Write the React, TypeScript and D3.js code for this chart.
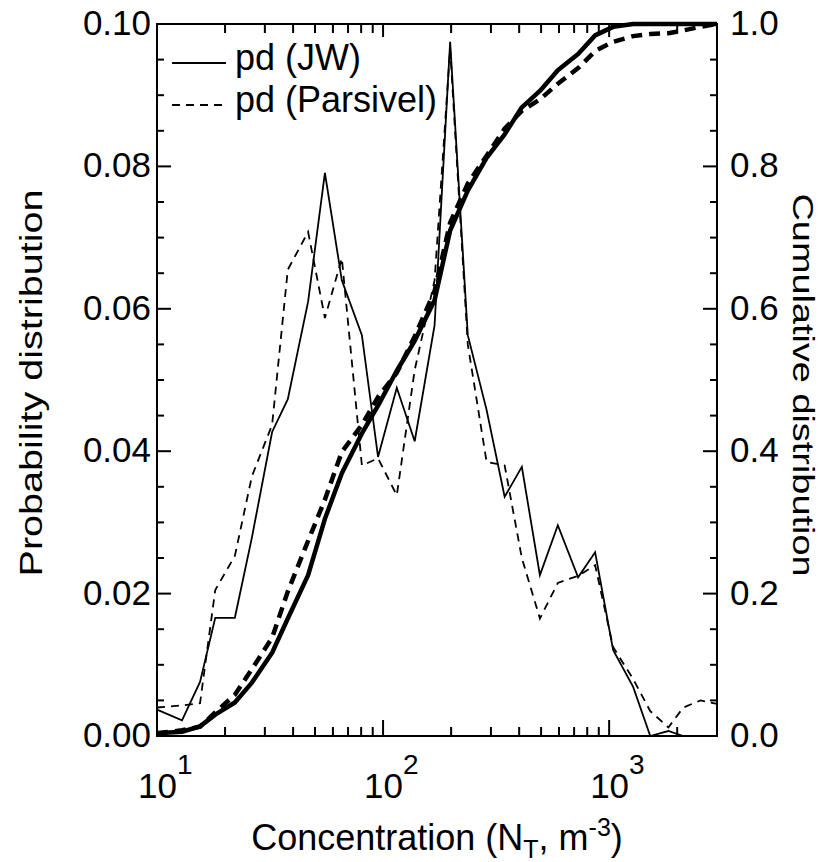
import React from "react";
import * as d3 from "d3";

// Concentration bins (N_T, m^-3)
const conc = [10, 12.9, 15.5, 18.1, 22.1, 26.3, 32.3, 37.9, 46.6, 55.3, 65.7, 80.6, 95, 115, 138, 169, 198, 237, 287, 345, 411, 494, 593, 729, 867, 1041, 1277, 1520, 1827, 2130, 2535, 3000];

// Probability distribution
const pdJW = [0.0037, 0.0022, 0.0076, 0.0166, 0.0166, 0.0279, 0.0427, 0.0473, 0.061, 0.0791, 0.064, 0.0563, 0.0392, 0.0489, 0.0414, 0.0577, 0.0975, 0.0563, 0.0458, 0.0336, 0.0378, 0.0226, 0.0296, 0.0223, 0.0258, 0.0121, 0.0069, 0.0, 0.0007, 0.0, 0.0, 0.0];
const pdParsivel = [0.004, 0.0043, 0.0046, 0.0205, 0.0253, 0.0365, 0.0437, 0.0655, 0.0708, 0.0587, 0.0671, 0.038, 0.039, 0.0338, 0.0514, 0.064, 0.0966, 0.055, 0.0385, 0.038, 0.025, 0.0165, 0.0215, 0.0225, 0.024, 0.0125, 0.008, 0.0035, 0.0012, 0.004, 0.005, 0.0045];

// Cumulative distribution
const cumJW = [0.004, 0.006, 0.0135, 0.03, 0.047, 0.075, 0.117, 0.165, 0.226, 0.305, 0.369, 0.425, 0.464, 0.513, 0.555, 0.612, 0.71, 0.766, 0.812, 0.845, 0.883, 0.906, 0.935, 0.958, 0.984, 0.996, 1.0, 1.0, 1.0, 1.0, 1.0, 1.0];
const cumParsivel = [0.004, 0.008, 0.013, 0.033, 0.058, 0.094, 0.138, 0.203, 0.274, 0.332, 0.399, 0.437, 0.476, 0.51, 0.561, 0.625, 0.721, 0.776, 0.815, 0.853, 0.878, 0.894, 0.916, 0.938, 0.962, 0.975, 0.983, 0.986, 0.987, 0.991, 0.996, 1.0];

const pdTicks = [0, 0.02, 0.04, 0.06, 0.08, 0.1];
const cumTicks = [0, 0.2, 0.4, 0.6, 0.8, 1.0];
const xDecades = [{ v: 10, e: "1" }, { v: 100, e: "2" }, { v: 1000, e: "3" }];
const legendItems = [
  { label: "pd (JW)", dash: "none" },
  { label: "pd (Parsivel)", dash: "8,6" },
];

const W = 821, H = 862;
const L = 157, R = 717, T = 24, B = 736;
const FONT = "'Liberation Sans', Arial, Helvetica, sans-serif";

export default function App() {
  const x = d3.scaleLog().domain([10, 3000]).range([L, R]);
  const yL = d3.scaleLinear().domain([0, 0.1]).range([B, T]);
  const yR = d3.scaleLinear().domain([0, 1]).range([B, T]);

  const mk = (vals: number[], y: d3.ScaleLinear<number, number>) =>
    d3.line<number>().x((_, i) => x(conc[i])).y((d) => y(d))(vals) || "";

  const xMinor = x.ticks().filter((t) => t >= 10 && t <= 3000);
  const isDecade = (t: number) => Math.abs(Math.log10(t) - Math.round(Math.log10(t))) < 1e-9;
  const yMinor = d3.range(0, 21).map((i) => i * 0.005);
  const cMinor = d3.range(0, 21).map((i) => i * 0.05);
  const isMajorPd = (v: number) => Math.abs(v / 0.02 - Math.round(v / 0.02)) < 1e-6;
  const isMajorC = (v: number) => Math.abs(v / 0.2 - Math.round(v / 0.2)) < 1e-6;

  return (
    <svg width={W} height={H} style={{ position: "absolute", left: 0, top: 0, background: "#fff" }} fontFamily={FONT}>
      <rect x={0} y={0} width={W} height={H} fill="#fff" />
      {/* data lines */}
      <path d={mk(pdJW, yL)} fill="none" stroke="#000" strokeWidth={1.8} strokeLinejoin="miter" />
      <path d={mk(pdParsivel, yL)} fill="none" stroke="#000" strokeWidth={1.8} strokeDasharray="8,6" />
      <path d={mk(cumJW, yR)} fill="none" stroke="#000" strokeWidth={4.5} strokeLinejoin="round" />
      <path d={mk(cumParsivel, yR)} fill="none" stroke="#000" strokeWidth={4.5} strokeDasharray="11,7" />

      {/* frame */}
      <rect x={L} y={T} width={R - L} height={B - T} fill="none" stroke="#000" strokeWidth={2} />

      {/* x ticks bottom & top */}
      {xMinor.map((t, i) => {
        const px = x(t);
        const maj = isDecade(t);
        return (
          <g key={"xt" + i}>
            <line x1={px} x2={px} y1={B} y2={B - (maj ? 16 : 9)} stroke="#000" strokeWidth={2} />
            <line x1={px} x2={px} y1={T} y2={T + (maj ? 13 : 9)} stroke="#000" strokeWidth={2} />
          </g>
        );
      })}
      {/* left ticks */}
      {yMinor.map((v, i) => (
        <line key={"yl" + i} x1={L} x2={L + (isMajorPd(v) ? 14 : 7)} y1={yL(v)} y2={yL(v)} stroke="#000" strokeWidth={2} />
      ))}
      {/* right ticks */}
      {cMinor.map((v, i) => (
        <line key={"yr" + i} x1={R} x2={R - (isMajorC(v) ? 14 : 7)} y1={yR(v)} y2={yR(v)} stroke="#000" strokeWidth={2} />
      ))}

      {/* left tick labels */}
      {pdTicks.map((v, i) => (
        <text key={"pl" + i} x={151} y={yL(v) + 11} textAnchor="end" fontSize={35}>
          {d3.format(".2f")(v)}
        </text>
      ))}
      {/* right tick labels */}
      {cumTicks.map((v, i) => (
        <text key={"cl" + i} x={730} y={yR(v) + 11} textAnchor="start" fontSize={35}>
          {d3.format(".1f")(v)}
        </text>
      ))}
      {/* x tick labels */}
      {xDecades.map((d, i) => (
        <text key={"xl" + i} x={x(d.v) - 19} y={798} fontSize={35}>
          10
          <tspan dy={-24} fontSize={28}>{d.e}</tspan>
        </text>
      ))}

      {/* axis titles */}
      <text x={(L + R) / 2} y={850} textAnchor="middle" fontSize={36}>
        Concentration (N
        <tspan dy={8} fontSize={25}>T</tspan>
        <tspan dy={-8}>, m</tspan>
        <tspan dy={-14} fontSize={25}>-3</tspan>
        <tspan dy={14}>)</tspan>
      </text>
      <text transform={`translate(42, ${(T + B) / 2 + 3}) rotate(-90)`} textAnchor="middle" fontSize={31} textLength={387} lengthAdjust="spacingAndGlyphs">
        Probability distribution
      </text>
      <text transform={`translate(793, ${(T + B) / 2 + 5}) rotate(90)`} textAnchor="middle" fontSize={29} textLength={383} lengthAdjust="spacingAndGlyphs">
        Cumulative distribution
      </text>

      {/* legend */}
      {legendItems.map((it, i) => (
        <g key={"lg" + i} transform={`translate(0, ${i * 42})`}>
          <line x1={172} x2={226} y1={63} y2={63} stroke="#000" strokeWidth={2} strokeDasharray={it.dash} />
          <text x={235} y={70} fontSize={36}>{it.label}</text>
        </g>
      ))}
    </svg>
  );
}
